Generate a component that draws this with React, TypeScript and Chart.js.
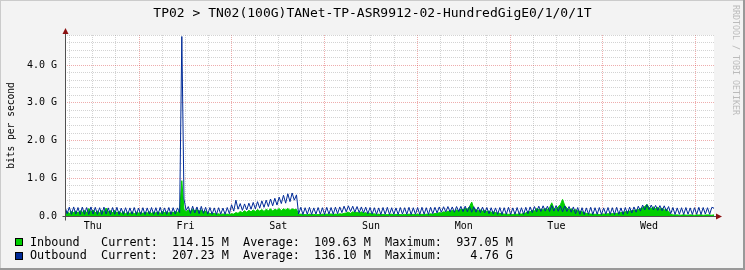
import React, { useEffect, useRef } from 'react';
import { Chart, registerables } from 'chart.js';

Chart.register(...registerables);

const TITLE = 'TP02 > TN02(100G)TANet-TP-ASR9912-02-HundredGigE0/1/0/1T';
const Y_AXIS_TITLE = 'bits per second';
const WATERMARK = 'RRDTOOL / TOBI OETIKER';
const DAY_LABELS = ['Thu', 'Fri', 'Sat', 'Sun', 'Mon', 'Tue', 'Wed'];
const Y_TICK_LABELS = ['0.0', '1.0 G', '2.0 G', '3.0 G', '4.0 G'];
const LEGEND_INBOUND = 'Inbound   Current:  114.15 M  Average:  109.63 M  Maximum:  937.05 M';
const LEGEND_OUTBOUND = 'Outbound  Current:  207.23 M  Average:  136.10 M  Maximum:    4.76 G';

const STEP_HOURS = 0.56; // sample spacing
const SPAN_HOURS = 168;
const FIRST_MIDNIGHT = 19.2; // hours from graph start to Thu/Fri midnight
const Y_MAX = 4.8e9;
const Y_MINOR = 0.2e9;

// Mbit/s samples
const OUTBOUND_M = [
  250, 60, 235, 45, 240, 50, 225, 40, 235, 45,
  225, 40, 240, 50, 230, 45, 220, 40, 235, 50,
  215, 40, 225, 45, 230, 40, 210, 45, 220, 40,
  215, 50, 225, 40, 210, 45, 220, 40, 215, 50,
  225, 45, 220, 40, 230, 50, 215, 45, 225, 40,
  220, 50, 215, 90, 4760, 450, 150, 250, 70, 260,
  80, 240, 60, 255, 70, 230, 50, 225, 45, 215,
  40, 220, 50, 210, 45, 225, 60, 300, 130, 420,
  180, 330, 150, 320, 160, 340, 180, 360, 190, 380,
  210, 400, 230, 420, 250, 450, 270, 470, 290, 500,
  330, 550, 340, 590, 380, 610, 420, 560, 50, 230,
  40, 220, 45, 230, 40, 215, 50, 225, 45, 220,
  40, 230, 50, 225, 45, 235, 60, 240, 90, 260,
  110, 270, 120, 260, 100, 250, 90, 240, 80, 235,
  60, 225, 50, 220, 45, 215, 40, 225, 45, 230,
  40, 220, 45, 215, 40, 225, 50, 220, 45, 230,
  40, 220, 45, 225, 40, 230, 45, 220, 40, 230,
  60, 230, 80, 240, 100, 245, 110, 250, 110, 240,
  100, 250, 120, 255, 115, 260, 110, 250, 100, 245,
  100, 240, 90, 235, 80, 225, 60, 220, 50, 215,
  45, 225, 40, 220, 45, 230, 40, 215, 45, 225,
  40, 220, 45, 230, 60, 240, 90, 250, 110, 260,
  120, 270, 130, 260, 120, 280, 130, 275, 125, 260,
  110, 270, 120, 250, 100, 240, 60, 225, 45, 220,
  40, 215, 45, 230, 40, 220, 45, 225, 40, 215,
  50, 225, 45, 220, 40, 230, 45, 215, 40, 225,
  60, 235, 80, 240, 100, 260, 130, 290, 160, 300,
  170, 290, 160, 280, 150, 275, 140, 270, 130, 250,
  60, 225, 40, 215, 45, 220, 40, 225, 45, 215,
  40, 220, 45, 230, 40, 225, 50, 220, 45, 230,
  207,
];

const INBOUND_M = [
  80, 110, 70, 120, 90, 130, 80, 140, 100, 150,
  90, 200, 110, 160, 90, 130, 80, 150, 100, 210,
  110, 140, 90, 150, 80, 120, 70, 110, 60, 100,
  70, 110, 60, 100, 80, 90, 70, 100, 80, 110,
  70, 100, 80, 110, 70, 120, 90, 110, 80, 100,
  90, 120, 100, 140, 937, 170, 120, 160, 130, 180,
  140, 170, 130, 160, 110, 130, 90, 70, 60, 70,
  50, 60, 40, 55, 45, 50, 40, 60, 50, 90,
  70, 120, 90, 140, 100, 150, 110, 160, 120, 170,
  130, 170, 120, 180, 140, 190, 130, 180, 150, 200,
  140, 190, 160, 200, 150, 190, 170, 180, 40, 50,
  30, 40, 30, 50, 35, 45, 30, 40, 35, 50,
  40, 50, 45, 55, 40, 50, 45, 60, 50, 70,
  80, 100, 70, 110, 90, 100, 80, 110, 70, 90,
  60, 80, 50, 60, 40, 50, 35, 45, 30, 40,
  35, 50, 30, 45, 35, 40, 30, 45, 35, 50,
  40, 45, 35, 50, 40, 45, 35, 50, 45, 60,
  45, 70, 60, 90, 80, 110, 100, 130, 110, 150,
  120, 160, 140, 180, 170, 200, 180, 250, 370, 200,
  170, 140, 160, 130, 150, 120, 130, 100, 110, 90,
  80, 70, 60, 50, 55, 45, 50, 40, 55, 45,
  60, 50, 70, 80, 120, 110, 150, 130, 200, 170,
  180, 160, 200, 170, 220, 350, 200, 180, 250, 300,
  440, 280, 210, 160, 190, 150, 170, 140, 130, 110,
  90, 70, 60, 55, 50, 45, 50, 40, 45, 55,
  50, 60, 55, 65, 60, 70, 80, 90, 100, 110,
  120, 130, 140, 150, 160, 170, 200, 220, 250, 310,
  220, 200, 240, 190, 230, 180, 210, 160, 180, 120,
  40, 30, 25, 30, 20, 25, 30, 25, 20, 30,
  25, 20, 30, 25, 30, 20, 25, 30, 25, 20,
  30,
];

const INBOUND_COLOR = '#00CF00';
const OUTBOUND_COLOR = '#002A97';
const GRID_MINOR = 'rgba(140,140,140,0.38)';
const GRID_MAJOR = 'rgba(210,40,40,0.38)';
const MONO = '"DejaVu Sans Mono", monospace';

const toPoints = (arr: number[]) => arr.map((v, i) => ({ x: i * STEP_HOURS, y: v * 1e6 }));

const rrdPlugin = {
  id: 'rrdDecor',
  beforeDraw(chart: any) {
    const { ctx, chartArea: a, width, height } = chart;
    ctx.save();
    ctx.fillStyle = '#F3F3F3';
    ctx.fillRect(0, 0, width, height);
    ctx.fillStyle = '#CBCBCB';
    ctx.fillRect(0, 0, width, 1);
    ctx.fillRect(0, 0, 1, height);
    ctx.fillStyle = '#999999';
    ctx.fillRect(0, height - 2, width, 2);
    ctx.fillRect(width - 2, 0, 2, height);
    ctx.fillStyle = '#FFFFFF';
    ctx.fillRect(a.left, a.top, a.right - a.left, a.bottom - a.top);
    ctx.restore();
  },
  afterDraw(chart: any) {
    const { ctx, chartArea: a } = chart;
    ctx.save();
    // axes
    const ax = Math.round(a.left) + 0.5;
    const ay = Math.round(a.bottom) + 0.5;
    ctx.strokeStyle = '#505050';
    ctx.lineWidth = 1;
    ctx.beginPath();
    ctx.moveTo(ax - 3, ay);
    ctx.lineTo(a.right + 2, ay);
    ctx.moveTo(ax, ay + 4);
    ctx.lineTo(ax, a.top - 2);
    ctx.stroke();
    // arrows
    ctx.fillStyle = '#8B1010';
    ctx.beginPath();
    ctx.moveTo(ax, a.top - 7);
    ctx.lineTo(ax - 3, a.top - 1);
    ctx.lineTo(ax + 3, a.top - 1);
    ctx.closePath();
    ctx.fill();
    ctx.beginPath();
    ctx.moveTo(a.right + 8, ay);
    ctx.lineTo(a.right + 2, ay - 3);
    ctx.lineTo(a.right + 2, ay + 3);
    ctx.closePath();
    ctx.fill();

    // title
    ctx.fillStyle = '#000';
    ctx.font = `13px ${MONO}`;
    ctx.textAlign = 'center';
    ctx.textBaseline = 'middle';
    ctx.fillText(TITLE, 372.5, 14);

    // y axis title
    ctx.save();
    ctx.translate(11, (a.top + a.bottom) / 2);
    ctx.rotate(-Math.PI / 2);
    ctx.font = `9.6px ${MONO}`;
    ctx.fillStyle = '#000';
    ctx.fillText(Y_AXIS_TITLE, 0, 0);
    ctx.restore();

    // watermark
    ctx.save();
    ctx.translate(735, 5);
    ctx.rotate(Math.PI / 2);
    ctx.font = `8.3px ${MONO}`;
    ctx.fillStyle = '#BBBBBB';
    ctx.textAlign = 'left';
    ctx.textBaseline = 'middle';
    ctx.fillText(WATERMARK, 0, 0);
    ctx.restore();

    // legend
    const rows = [
      { color: INBOUND_COLOR, text: LEGEND_INBOUND, y: 242.5 },
      { color: OUTBOUND_COLOR, text: LEGEND_OUTBOUND, y: 256 },
    ];
    ctx.font = `11.8px ${MONO}`;
    ctx.textAlign = 'left';
    ctx.textBaseline = 'middle';
    rows.forEach((r) => {
      const top = Math.round(r.y - 4.5);
      ctx.fillStyle = r.color;
      ctx.fillRect(15, top, 8, 8);
      ctx.strokeStyle = '#000';
      ctx.strokeRect(15.5, top + 0.5, 7, 7);
      ctx.fillStyle = '#000';
      ctx.fillText(r.text, 30, r.y);
    });
    ctx.restore();
  },
};

export default function App() {
  const ref = useRef<HTMLCanvasElement | null>(null);

  useEffect(() => {
    if (!ref.current) return;
    const chart = new Chart(ref.current, {
      type: 'line',
      data: {
        datasets: [
          {
            label: 'Outbound',
            data: toPoints(OUTBOUND_M),
            borderColor: OUTBOUND_COLOR,
            borderWidth: 1,
            pointRadius: 0,
            tension: 0,
            fill: false,
            order: 0,
          },
          {
            label: 'Inbound',
            data: toPoints(INBOUND_M),
            borderColor: INBOUND_COLOR,
            backgroundColor: INBOUND_COLOR,
            borderWidth: 1,
            pointRadius: 0,
            tension: 0,
            fill: 'origin',
            order: 1,
          },
        ],
      },
      options: {
        animation: false,
        responsive: false,
        devicePixelRatio: 1,
        layout: { padding: { top: 35, right: 31, left: 0, bottom: 0 } },
        plugins: { legend: { display: false }, tooltip: { enabled: false }, title: { display: false } },
        scales: {
          x: {
            type: 'linear',
            min: 0,
            max: SPAN_HOURS,
            afterBuildTicks: (scale: any) => {
              const t: any[] = [];
              for (let k = 0; ; k++) {
                const h = FIRST_MIDNIGHT - 18 + 6 * k;
                if (h > SPAN_HOURS) break;
                t.push({ value: h });
              }
              scale.ticks = t;
            },
            afterFit: (scale: any) => {
              scale.height = 54;
            },
            grid: {
              drawTicks: false,
              lineWidth: 1,
              color: (c: any) => (c.index % 4 === 3 ? GRID_MAJOR : GRID_MINOR),
            },
            border: { display: false, dash: [1, 1] },
            ticks: {
              autoSkip: false,
              maxRotation: 0,
              minRotation: 0,
              padding: 4,
              color: '#000',
              font: { family: MONO, size: 10 },
              callback: (_v: any, i: number) => (i % 4 === 1 ? DAY_LABELS[(i - 1) / 4] ?? '' : ''),
            },
          },
          y: {
            type: 'linear',
            min: 0,
            max: Y_MAX,
            afterBuildTicks: (scale: any) => {
              const t: any[] = [];
              const n = Math.round(Y_MAX / Y_MINOR);
              for (let k = 0; k <= n; k++) t.push({ value: k * Y_MINOR });
              scale.ticks = t;
            },
            afterFit: (scale: any) => {
              scale.width = 65;
            },
            grid: {
              drawTicks: false,
              lineWidth: 1,
              color: (c: any) => (c.index % 5 === 0 && c.index > 0 ? GRID_MAJOR : GRID_MINOR),
            },
            border: { display: false, dash: [1, 1] },
            ticks: {
              autoSkip: false,
              padding: 8,
              color: '#000',
              font: { family: MONO, size: 10 },
              callback: (_v: any, i: number) => (i % 5 === 0 ? Y_TICK_LABELS[i / 5] ?? '' : ''),
            },
          },
        },
      },
      plugins: [rrdPlugin],
    } as any);
    return () => chart.destroy();
  }, []);

  return (
    <div style={{ position: 'fixed', left: 0, top: 0, width: 745, height: 270 }}>
      <canvas ref={ref} width={745} height={270} style={{ display: 'block', width: 745, height: 270 }} />
    </div>
  );
}
